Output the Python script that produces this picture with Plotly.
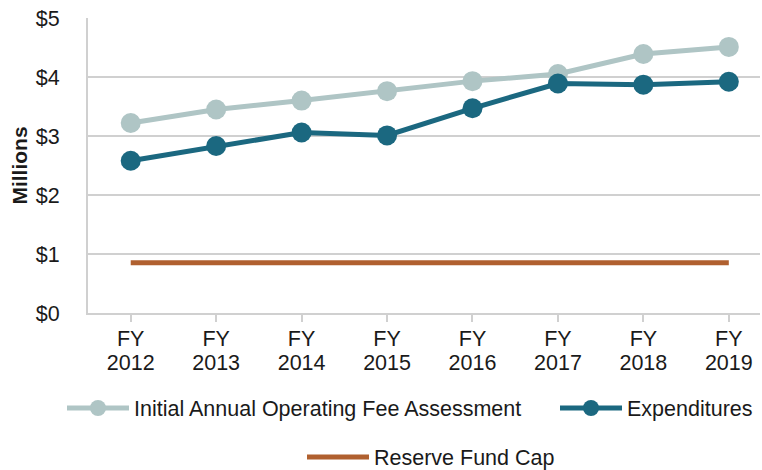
import plotly.graph_objects as go

fy_labels = ["FY"] * 8
year_labels = ["2012", "2013", "2014", "2015", "2016", "2017", "2018", "2019"]
initial_assessment = [3.22, 3.45, 3.60, 3.76, 3.93, 4.05, 4.39, 4.51]
expenditures = [2.58, 2.83, 3.06, 3.01, 3.47, 3.89, 3.87, 3.92]
reserve_cap = [0.85] * 8
y_ticks = [0, 1, 2, 3, 4, 5]
y_tick_labels = ["$0", "$1", "$2", "$3", "$4", "$5"]

x = list(range(len(year_labels)))
FONT = "Liberation Sans, Arial, sans-serif"
FS = 21.5

fig = go.Figure()
fig.add_trace(go.Scatter(
    x=x, y=reserve_cap, mode="lines", name="Reserve Fund Cap",
    line=dict(color="#B0602F", width=5), legend="legend3"))
fig.add_trace(go.Scatter(
    x=x, y=initial_assessment, mode="lines+markers",
    name="Initial Annual Operating Fee Assessment",
    line=dict(color="#AFC5C5", width=5),
    marker=dict(size=20, color="#AFC5C5"), legend="legend"))
fig.add_trace(go.Scatter(
    x=x, y=expenditures, mode="lines+markers", name="Expenditures",
    line=dict(color="#1B6880", width=5),
    marker=dict(size=20, color="#1B6880"), legend="legend2"))
# invisible carrier so the year-label axis is drawn
fig.add_trace(go.Scatter(
    x=x, y=reserve_cap, xaxis="x2", mode="lines", line=dict(width=0),
    opacity=0, showlegend=False, hoverinfo="skip"))

leg_common = dict(orientation="h", xref="container", yref="container",
                  xanchor="left", yanchor="middle", font=dict(size=FS),
                  itemwidth=62, bgcolor="rgba(0,0,0,0)")
fig.update_layout(
    width=762, height=470,
    margin=dict(l=88, r=2, t=18, b=157),
    paper_bgcolor="white", plot_bgcolor="white",
    font=dict(family=FONT, size=FS, color="#1a1a1a"),
    legend=dict(x=62 / 762, y=1 - 408 / 470, **leg_common),
    legend2=dict(x=555 / 762, y=1 - 408 / 470, **leg_common),
    legend3=dict(x=302 / 762, y=1 - 457 / 470, **leg_common),
    showlegend=True,
)
fig.update_xaxes(
    range=[-0.5, 7.365], tickvals=x, ticktext=fy_labels,
    showline=True, linecolor="#D0D0D0", linewidth=2,
    ticks="outside", tickcolor="#D0D0D0", ticklen=7, tickwidth=1.5,
    showgrid=False, zeroline=False, tickfont=dict(size=FS),
    automargin=False, ticklabelstandoff=-2,
)
fig.update_layout(xaxis2=dict(
    overlaying="x", side="bottom", anchor="y",
    range=[-0.5, 7.365], tickvals=x, ticktext=year_labels,
    showline=False, ticks="", showgrid=False, zeroline=False,
    tickfont=dict(size=FS), automargin=False, ticklabelstandoff=34,
))
fig.update_yaxes(
    range=[0, 5], tickvals=y_ticks, ticktext=y_tick_labels,
    showline=True, linecolor="#D0D0D0", linewidth=2,
    showgrid=True, gridcolor="#D0D0D0", gridwidth=1.5, zeroline=False,
    ticklabelstandoff=22, tickfont=dict(size=FS), automargin=False,
    title=dict(text="<b>Millions</b>", font=dict(size=21), standoff=2),
)
fig.write_html("out.html",
               config={"displayModeBar": False},
               post_script="document.body.style.margin='0';document.body.style.overflow='hidden';")
